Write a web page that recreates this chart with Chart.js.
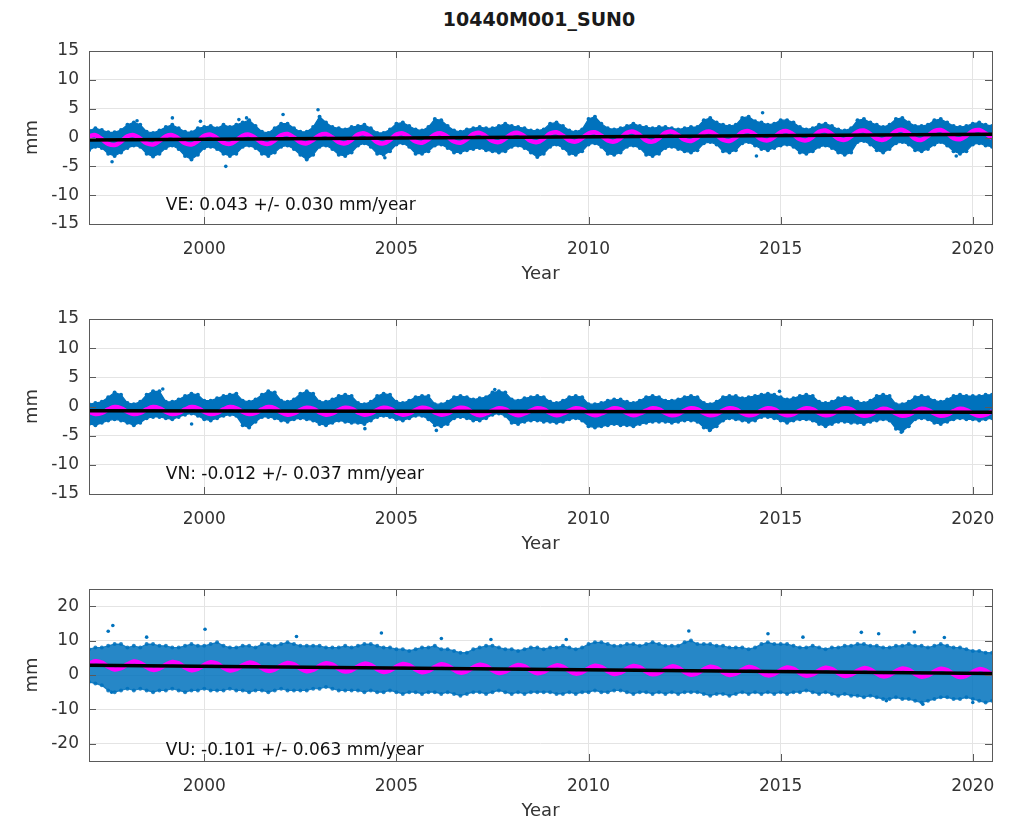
<!DOCTYPE html>
<html>
<head>
<meta charset="utf-8">
<script src="https://cdn.jsdelivr.net/npm/chart.js@4.4.1/dist/chart.umd.min.js"></script>
<style>
  html, body { margin: 0; padding: 0; background: #fff; overflow: hidden; }
  body { width: 1011px; height: 820px; position: relative; }
  #title { position: absolute; left: 339px; width: 400px; top: 8px; line-height: 22px;
           text-align: center; font: bold 19px "DejaVu Sans"; color: #1a1a1a; }
  canvas { position: absolute; left: 0; }
</style>
</head>
<body>
<div id="title">10440M001_SUN0</div>
<canvas id="ve" width="1011" height="247" style="top:39px"></canvas>
<canvas id="vn" width="1011" height="249" style="top:307px"></canvas>
<canvas id="vu" width="1011" height="246" style="top:577px"></canvas>
<script>
"use strict";
// epochs every two months, 1997.0 .. 2020.5
var epochs = Array.from({ length: 142 }, function (_, i) { return 1997 + i / 6; });
var trendYears = [1997, 2020.5];
var yearTicks = [2000, 2005, 2010, 2015, 2020];
var enTicks = [-15, -10, -5, 0, 5, 10, 15];
var upTicks = [-20, -10, 0, 10, 20];

// East
var veUpper = [
  1.2, 1.6, 1.3, 0.9, 0.9, 1.3,  2.2, 2.6, 2.2, 1.0, 0.8, 1.2,  1.8, 2.2, 1.6, 1.0, 0.9, 1.6,
  1.8, 2.0, 1.6, 2.2, 1.8, 2.2,  2.6, 3.0, 2.0, 1.0, 0.8, 1.6,  2.4, 2.4, 1.6, 1.0, 1.0, 1.8,
  3.6, 2.6, 1.8, 1.6, 1.4, 1.8,  2.0, 2.2, 1.6, 0.8, 0.8, 1.4,  2.4, 2.6, 2.0, 1.4, 1.2, 1.8,
  3.2, 3.0, 2.0, 1.2, 1.0, 1.4,  1.6, 1.8, 1.6, 1.6, 2.0, 2.4,  2.0, 1.8, 1.6, 1.2, 1.2, 1.4,
  2.4, 2.6, 2.0, 1.2, 1.0, 1.4,  3.2, 3.6, 2.4, 1.6, 1.4, 1.6,  2.0, 2.4, 2.0, 1.8, 1.6, 1.8,
  1.8, 1.6, 1.4, 1.6, 1.8, 1.8,  3.0, 3.4, 2.6, 2.2, 2.0, 2.2,  3.4, 3.6, 2.8, 2.6, 2.2, 2.4,
  3.0, 3.0, 2.6, 1.8, 1.4, 1.6,  2.2, 2.4, 2.0, 1.4, 1.2, 1.6,  3.0, 3.2, 2.6, 2.2, 1.8, 2.2,
  3.2, 3.4, 2.6, 2.0, 2.0, 2.2,  3.0, 3.2, 2.6, 2.0, 1.8, 2.0,  2.4, 2.6, 2.2, 2.0
];
var veLower = [
  -2.2, -1.6, -1.8, -2.8, -3.2, -2.6,  -1.8, -1.4, -1.6, -2.8, -3.3, -2.8,  -1.8, -1.4, -2.0, -3.2, -3.8, -3.0,
  -1.8, -1.6, -2.0, -2.8, -3.2, -2.8,  -1.6, -1.4, -1.8, -2.8, -3.2, -2.6,  -1.6, -1.4, -2.0, -3.0, -3.8, -3.0,
  -1.6, -1.4, -2.0, -3.0, -3.2, -2.6,  -1.4, -1.0, -1.6, -2.8, -3.0, -2.4,  -1.2, -1.0, -1.6, -2.8, -2.8, -2.4,
  -1.4, -1.2, -1.8, -2.6, -2.6, -2.2,  -2.0, -1.8, -2.2, -2.4, -2.6, -2.4,  -1.6, -1.4, -1.8, -2.6, -3.4, -2.8,
  -1.6, -1.2, -1.8, -2.8, -3.0, -2.4,  -1.2, -1.0, -1.6, -2.8, -3.0, -2.6,  -1.6, -1.4, -1.8, -3.0, -3.2, -2.8,
  -1.8, -1.6, -2.0, -2.4, -2.6, -2.2,  -1.0, -0.8, -1.2, -2.4, -2.6, -2.2,  -1.0, -0.8, -1.4, -2.0, -2.2, -1.8,
  -1.4, -1.2, -1.6, -2.6, -2.8, -2.4,  -1.6, -1.4, -1.8, -2.6, -3.0, -2.6,  -0.8, -0.6, -1.2, -2.2, -2.6, -2.0,
  -1.0, -0.8, -1.2, -2.2, -2.4, -2.0,  -1.2, -0.8, -1.4, -2.4, -2.8, -2.4,  -1.2, -1.0, -1.4, -1.6
];
var veFit = [
  0.2, 0.4, -0.3, -1.1, -1.3, -0.7,  0.2, 0.4, -0.2, -1.0, -1.2, -0.6,  0.2, 0.4, -0.2, -1.0, -1.2, -0.6,
  0.3, 0.5, -0.1, -0.9, -1.1, -0.5,  0.3, 0.5, -0.1, -0.9, -1.1, -0.5,  0.4, 0.6, 0.0, -0.8, -1.0, -0.4,
  0.4, 0.6, 0.0, -0.8, -1.0, -0.4,  0.5, 0.7, 0.1, -0.8, -1.0, -0.4,  0.5, 0.7, 0.1, -0.7, -0.9, -0.3,
  0.5, 0.7, 0.1, -0.7, -0.9, -0.3,  0.6, 0.8, 0.2, -0.6, -0.8, -0.2,  0.6, 0.8, 0.2, -0.6, -0.8, -0.2,
  0.7, 0.9, 0.3, -0.5, -0.7, -0.1,  0.7, 0.9, 0.3, -0.5, -0.7, -0.1,  0.8, 1.0, 0.4, -0.5, -0.7, -0.1,
  0.8, 1.0, 0.4, -0.4, -0.6, 0.0,  0.8, 1.0, 0.4, -0.4, -0.6, 0.0,  0.9, 1.1, 0.5, -0.3, -0.5, 0.1,
  0.9, 1.1, 0.5, -0.3, -0.5, 0.1,  1.0, 1.2, 0.6, -0.2, -0.4, 0.2,  1.0, 1.2, 0.6, -0.2, -0.4, 0.2,
  1.1, 1.3, 0.7, -0.2, -0.4, 0.3,  1.1, 1.3, 0.7, -0.1, -0.3, 0.3,  1.1, 1.3, 0.7, -0.1
];
var veTrend = [-0.45, 0.56];
var veOutX = [1997.6, 1998.25, 1999.17, 1999.9, 2000.56, 2000.9, 2001.1, 2002.05, 2002.96, 2004.7, 2014.37, 2014.53, 2019.57];
var veOutY = [-4.2, 2.9, 3.4, 2.8, -5.0, 3.1, 3.4, 4.0, 4.8, -3.5, -3.2, 4.3, -3.2];

// North
var vnUpper = [
  0.4, 0.6, 0.8, 1.6, 2.4, 2.0,  0.6, 0.4, 0.8, 2.0, 2.6, 2.6,  0.8, 0.8, 1.2, 1.8, 2.2, 2.0,
  1.0, 1.0, 1.4, 1.8, 2.0, 2.2,  1.0, 0.8, 1.2, 2.0, 2.6, 2.4,  1.0, 0.8, 1.2, 2.2, 2.6, 2.2,
  0.8, 0.8, 1.2, 1.8, 2.0, 1.8,  0.6, 0.4, 0.8, 1.8, 2.2, 2.0,  0.8, 0.6, 1.0, 1.6, 1.8, 1.8,
  0.4, 0.4, 0.8, 1.6, 1.8, 1.6,  1.2, 1.4, 1.6, 2.4, 2.6, 2.4,  1.2, 1.0, 1.4, 1.6, 1.8, 1.6,
  0.8, 0.6, 1.0, 1.6, 1.8, 1.6,  0.4, 0.4, 0.6, 1.0, 1.2, 1.2,  0.8, 0.6, 1.0, 1.6, 1.8, 1.6,
  1.0, 1.0, 1.2, 1.6, 1.8, 1.6,  0.6, 0.4, 0.8, 1.6, 1.8, 1.8,  1.4, 1.6, 1.8, 2.0, 2.2, 2.0,
  1.6, 1.2, 1.4, 1.8, 2.0, 1.8,  0.8, 0.6, 0.8, 1.4, 1.6, 1.4,  0.8, 0.6, 1.0, 1.8, 2.0, 1.8,
  0.4, 0.4, 0.8, 1.6, 1.8, 1.6,  1.0, 0.8, 1.2, 1.8, 2.0, 1.8,  1.8, 1.8, 2.0, 2.0
];
var vnLower = [
  -3.0, -3.2, -2.8, -2.4, -2.2, -2.4,  -2.8, -3.2, -2.8, -2.0, -1.8, -1.8,  -2.0, -2.2, -1.8, -1.4, -1.2, -1.6,
  -2.2, -2.4, -2.0, -1.6, -1.4, -1.6,  -3.2, -3.6, -2.6, -1.8, -1.8, -2.0,  -2.4, -2.6, -2.2, -2.0, -2.2, -2.4,
  -3.0, -3.2, -2.8, -2.4, -2.6, -2.8,  -2.8, -3.0, -2.4, -1.8, -1.6, -1.8,  -2.2, -2.4, -2.0, -1.6, -1.6, -2.2,
  -3.2, -3.4, -3.0, -2.0, -1.8, -2.0,  -2.4, -2.4, -2.0, -1.4, -1.2, -1.6,  -2.8, -3.0, -2.6, -2.4, -2.4, -2.6,
  -2.6, -2.8, -2.6, -2.2, -2.0, -2.4,  -3.4, -3.6, -3.4, -3.2, -3.0, -3.2,  -3.2, -3.4, -3.0, -2.8, -2.6, -2.6,
  -2.6, -2.8, -2.6, -2.4, -2.4, -2.6,  -3.6, -4.0, -3.4, -2.4, -2.0, -2.2,  -2.4, -2.6, -2.4, -1.8, -1.8, -2.0,
  -2.4, -2.8, -2.4, -2.2, -2.2, -2.4,  -3.0, -3.4, -3.0, -2.6, -2.6, -2.8,  -2.8, -3.0, -2.6, -2.4, -2.2, -2.4,
  -3.8, -4.2, -3.4, -2.2, -2.0, -2.2,  -2.8, -3.0, -2.6, -2.2, -2.0, -2.2,  -2.2, -2.4, -2.2, -2.0
];
var vnFit = [
  -0.9, -1.3, -1.1, -0.5, -0.1, -0.3,  -0.9, -1.3, -1.1, -0.5, -0.1, -0.3,  -0.9, -1.3, -1.1, -0.5, -0.1, -0.3,
  -0.9, -1.3, -1.1, -0.5, -0.1, -0.3,  -0.9, -1.3, -1.1, -0.5, -0.1, -0.3,  -1.0, -1.4, -1.2, -0.6, -0.2, -0.4,
  -1.0, -1.4, -1.2, -0.6, -0.2, -0.4,  -1.0, -1.4, -1.2, -0.6, -0.2, -0.4,  -1.0, -1.4, -1.2, -0.6, -0.2, -0.4,
  -1.0, -1.4, -1.2, -0.6, -0.2, -0.4,  -1.1, -1.5, -1.2, -0.7, -0.3, -0.5,  -1.1, -1.5, -1.2, -0.7, -0.3, -0.5,
  -1.1, -1.5, -1.2, -0.7, -0.3, -0.5,  -1.1, -1.5, -1.2, -0.7, -0.3, -0.5,  -1.1, -1.5, -1.2, -0.7, -0.3, -0.5,
  -1.1, -1.5, -1.3, -0.7, -0.3, -0.5,  -1.1, -1.5, -1.3, -0.7, -0.3, -0.5,  -1.1, -1.5, -1.3, -0.7, -0.3, -0.5,
  -1.1, -1.5, -1.3, -0.7, -0.3, -0.5,  -1.1, -1.5, -1.3, -0.7, -0.3, -0.5,  -1.2, -1.6, -1.4, -0.8, -0.4, -0.6,
  -1.2, -1.6, -1.4, -0.8, -0.4, -0.6,  -1.2, -1.6, -1.4, -0.8, -0.4, -0.6,  -1.2, -1.6, -1.4, -0.8
];
var vnTrend = [-0.72, -1.0];
var vnOutX = [1998.92, 1999.67, 2004.18, 2006.04, 2007.56, 2013.15, 2014.97, 2018.14];
var vnOutY = [3.0, -3.0, -3.8, -4.1, 2.9, -4.1, 2.6, -4.4];

// Up
var vuUpper = [
  7.5, 8.0, 8.0, 8.5, 9.0, 9.0,  8.0, 8.5, 8.0, 9.0, 9.0, 8.5,  8.5, 8.0, 8.0, 8.5, 9.0, 8.5,
  8.5, 9.0, 9.5, 8.5, 8.0, 8.0,  8.5, 8.5, 8.0, 9.0, 9.0, 8.5,  9.0, 9.5, 9.0, 8.5, 8.5, 8.5,
  8.5, 8.0, 8.0, 8.0, 8.5, 8.0,  8.5, 9.0, 9.0, 8.5, 8.0, 8.0,  7.5, 7.5, 7.0, 7.5, 8.0, 8.0,
  8.5, 7.5, 7.5, 7.0, 6.5, 6.5,  7.5, 8.0, 8.5, 8.5, 8.0, 7.5,  7.5, 7.0, 7.5, 8.0, 8.0, 7.5,
  8.0, 8.0, 8.5, 8.0, 7.5, 8.0,  9.0, 9.5, 9.5, 9.0, 8.5, 8.5,  9.0, 9.0, 8.5, 9.0, 9.5, 9.0,
  8.5, 8.5, 8.5, 9.5, 10.0, 9.0,  9.0, 9.0, 8.5, 8.5, 8.0, 8.0,  8.0, 7.5, 8.0, 9.0, 9.5, 9.0,
  9.0, 9.0, 8.5, 8.0, 8.0, 8.5,  8.0, 7.5, 8.0, 8.0, 8.5, 8.5,  9.0, 9.0, 8.5, 8.5, 8.0, 8.0,
  8.5, 8.5, 9.0, 8.5, 8.5, 8.0,  8.5, 9.0, 8.5, 8.0, 8.0, 7.5,  7.0, 7.0, 6.5, 6.5
];
var vuLower = [
  -2.0, -2.5, -3.0, -4.5, -5.0, -4.5,  -4.0, -4.5, -4.0, -4.5, -5.0, -4.5,  -4.5, -4.0, -4.5, -5.0, -4.5, -4.5,
  -4.0, -4.5, -4.5, -4.5, -4.0, -4.5,  -4.5, -5.0, -4.5, -4.5, -5.0, -4.5,  -4.0, -4.5, -4.5, -4.5, -4.5, -4.0,
  -4.0, -3.5, -4.0, -4.5, -4.5, -4.5,  -4.5, -5.0, -4.5, -5.0, -5.0, -4.5,  -5.0, -5.5, -5.0, -5.0, -5.5, -5.0,
  -5.0, -5.5, -5.0, -5.5, -6.0, -5.5,  -5.0, -5.0, -5.5, -5.0, -4.5, -5.0,  -5.5, -5.0, -5.5, -5.0, -5.0, -5.0,
  -5.0, -5.5, -5.5, -5.0, -5.5, -5.0,  -5.0, -4.5, -5.0, -5.0, -4.5, -4.5,  -5.0, -5.5, -5.0, -5.0, -5.5, -5.0,
  -5.5, -5.0, -5.5, -5.0, -5.0, -5.0,  -5.5, -6.0, -5.5, -5.5, -6.0, -5.5,  -5.0, -5.5, -5.0, -5.5, -5.0, -5.5,
  -5.0, -5.5, -5.0, -5.0, -4.5, -5.0,  -5.5, -5.0, -5.5, -6.0, -5.5, -6.0,  -6.0, -6.5, -6.0, -6.5, -7.0, -7.0,
  -6.5, -7.0, -7.0, -7.5, -8.0, -7.5,  -7.0, -6.5, -6.5, -7.0, -7.0, -6.5,  -7.0, -7.5, -8.0, -7.5
];
var vuFit = [
  3.2, 4.0, 3.6, 2.4, 1.6, 2.0,  3.1, 3.9, 3.5, 2.3, 1.5, 1.9,  3.0, 3.8, 3.4, 2.2, 1.4, 1.8,
  2.9, 3.7, 3.3, 2.1, 1.3, 1.7,  2.8, 3.6, 3.2, 2.0, 1.2, 1.6,  2.7, 3.5, 3.1, 1.9, 1.1, 1.5,
  2.6, 3.4, 3.0, 1.8, 1.0, 1.4,  2.5, 3.3, 2.9, 1.7, 0.9, 1.3,  2.4, 3.2, 2.8, 1.6, 0.8, 1.2,
  2.3, 3.1, 2.7, 1.5, 0.7, 1.1,  2.2, 3.0, 2.6, 1.4, 0.6, 1.0,  2.1, 2.9, 2.5, 1.3, 0.5, 0.9,
  2.0, 2.8, 2.4, 1.2, 0.4, 0.8,  1.9, 2.7, 2.3, 1.1, 0.3, 0.7,  1.8, 2.6, 2.2, 1.0, 0.2, 0.6,
  1.7, 2.5, 2.1, 0.9, 0.1, 0.5,  1.6, 2.4, 2.0, 0.8, 0.0, 0.4,  1.5, 2.3, 1.9, 0.7, -0.1, 0.3,
  1.4, 2.2, 1.8, 0.6, -0.2, 0.2,  1.3, 2.1, 1.7, 0.5, -0.3, 0.1,  1.2, 2.0, 1.6, 0.4, -0.4, 0.0,
  1.1, 1.9, 1.5, 0.3, -0.5, -0.1,  1.0, 1.8, 1.4, 0.2, -0.6, -0.2,  0.9, 1.7, 1.3, 0.1
];
var vuTrend = [2.8, 0.43];
var vuOutX = [1997.5, 1997.62, 1997.59, 1998.5, 2000.02, 2002.4, 2004.61, 2006.17, 2007.46, 2009.42,
              2012.61, 2014.67, 2015.58, 2017.1, 2017.55, 2017.75, 2018.48, 2018.7, 2019.26, 2020.0];
var vuOutY = [12.7, 14.4, -5.0, 11.0, 13.3, 11.2, 12.2, 10.6, 10.3, 10.3,
              12.8, 12.0, 11.0, 12.4, 12.0, -7.5, 12.5, -8.5, 10.9, -8.0];

var blue = "#0072bd";
var textColor = "#333333";
var gridColor = "#e4e4e4";
var tickFont = { family: "DejaVu Sans", size: 17, lineHeight: 1.2 };
var labelFont = { family: "DejaVu Sans", size: 18, lineHeight: 1.2 };

function points(xs, ys) {
    return ys.map(function (v, i) { return { x: xs[i], y: v }; });
}

function asTicks(list) {
    return function (scale) {
        scale.ticks = list.map(function (v) { return { value: v }; });
    };
}

// box round the axes, with inward tick marks on all four sides
var boxPlugin = {
    id: "box",
    afterDraw: function (chart) {
        var ctx = chart.ctx, a = chart.chartArea;
        var x = chart.scales.x, y = chart.scales.y;
        var len = 7;
        ctx.save();
        ctx.strokeStyle = "#5a5a5a";
        ctx.lineWidth = 1;
        ctx.beginPath();
        x.ticks.forEach(function (t) {
            var px = Math.round(x.getPixelForValue(t.value)) + 0.5;
            ctx.moveTo(px, a.top); ctx.lineTo(px, a.top + len);
            ctx.moveTo(px, a.bottom); ctx.lineTo(px, a.bottom - len);
        });
        y.ticks.forEach(function (t) {
            var py = Math.round(y.getPixelForValue(t.value)) + 0.5;
            ctx.moveTo(a.left, py); ctx.lineTo(a.left + len, py);
            ctx.moveTo(a.right, py); ctx.lineTo(a.right - len, py);
        });
        ctx.stroke();
        ctx.strokeRect(Math.round(a.left) + 0.5, Math.round(a.top) + 0.5,
                       Math.round(a.width), Math.round(a.height));
        ctx.restore();
    }
};

var notePlugin = {
    id: "note",
    afterDraw: function (chart, args, opts) {
        var ctx = chart.ctx;
        ctx.save();
        ctx.font = '17px "DejaVu Sans"';
        ctx.fillStyle = "#111";
        ctx.textBaseline = "middle";
        ctx.textAlign = "left";
        ctx.fillText(opts.text, chart.scales.x.getPixelForValue(opts.x), chart.scales.y.getPixelForValue(opts.y));
        ctx.restore();
    }
};

function makePanel(id, p) {
    return new Chart(document.getElementById(id), {
        type: "line",
        data: {
            datasets: [
                { data: points(trendYears, p.trend), borderColor: "#000", borderWidth: 3.5, pointRadius: 0 },
                { data: points(epochs, p.fit), borderColor: "#ff00ff", borderWidth: 4.5, pointRadius: 0, tension: 0.4 },
                { data: points(p.outX, p.outY), showLine: false, pointRadius: 1.8,
                  pointBackgroundColor: blue, pointBorderWidth: 0 },
                { data: points(epochs, p.upper), borderColor: p.band, borderWidth: 1.2,
                  pointRadius: 2, pointBackgroundColor: p.band, pointBorderWidth: 0,
                  backgroundColor: p.band, fill: "+1" },
                { data: points(epochs, p.lower), borderColor: p.band, borderWidth: 1.2,
                  pointRadius: 2, pointBackgroundColor: p.band, pointBorderWidth: 0, fill: false }
            ]
        },
        options: {
            responsive: false,
            animation: false,
            events: [],
            layout: { padding: { top: 12, right: 19, left: 0, bottom: 0 } },
            plugins: {
                legend: { display: false },
                tooltip: { enabled: false },
                note: { text: p.note, x: 1999, y: p.noteY }
            },
            scales: {
                x: {
                    type: "linear", min: 1997, max: 2020.5,
                    afterBuildTicks: asTicks(yearTicks),
                    afterFit: function (s) { s.height = 62; s.paddingLeft = 0; s.paddingRight = 0; },
                    grid: { color: gridColor, drawTicks: false },
                    border: { display: false },
                    ticks: { padding: 15, color: textColor, font: tickFont, maxRotation: 0, autoSkip: false,
                             callback: function (v) { return String(v); } },
                    title: { display: true, text: "Year", color: textColor, font: labelFont,
                             padding: { top: 0, bottom: 1 } }
                },
                y: {
                    type: "linear", min: p.yMin, max: p.yMax,
                    afterBuildTicks: asTicks(p.yTicks),
                    afterFit: function (s) { s.width = 89; s.paddingTop = 0; s.paddingBottom = 0; },
                    grid: { color: gridColor, drawTicks: false },
                    border: { display: false },
                    ticks: { padding: 10, color: textColor, font: tickFont, autoSkip: false,
                             callback: function (v) { return String(v); } },
                    title: { display: true, text: "mm", color: textColor, font: labelFont,
                             padding: { top: 22, bottom: 0 } }
                }
            }
        },
        plugins: [boxPlugin, notePlugin]
    });
}

makePanel("ve", { upper: veUpper, lower: veLower, fit: veFit, trend: veTrend, outX: veOutX, outY: veOutY,
    band: blue, yMin: -15, yMax: 15, yTicks: enTicks, note: "VE: 0.043 +/- 0.030 mm/year", noteY: -11.8 });
makePanel("vn", { upper: vnUpper, lower: vnLower, fit: vnFit, trend: vnTrend, outX: vnOutX, outY: vnOutY,
    band: blue, yMin: -15, yMax: 15, yTicks: enTicks, note: "VN: -0.012 +/- 0.037 mm/year", noteY: -11.6 });
makePanel("vu", { upper: vuUpper, lower: vuLower, fit: vuFit, trend: vuTrend, outX: vuOutX, outY: vuOutY,
    band: "rgba(0, 114, 189, 0.85)", yMin: -25, yMax: 25, yTicks: upTicks,
    note: "VU: -0.101 +/- 0.063 mm/year", noteY: -22 });
</script>
</body>
</html>
